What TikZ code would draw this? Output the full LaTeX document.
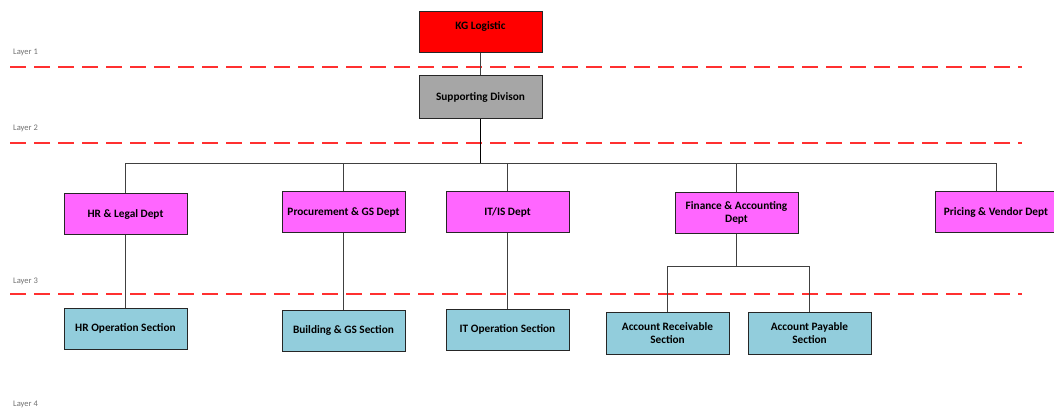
\documentclass[tikz,border=0pt]{standalone}
\usepackage{fontspec}
\setmainfont{Carlito}
\definecolor{kgred}{HTML}{FF0000}
\definecolor{divgrey}{HTML}{A6A6A6}
\definecolor{deptpink}{HTML}{FF66FF}
\definecolor{secblue}{HTML}{92CDDC}
\definecolor{dashred}{HTML}{FF3030}
\definecolor{linegrey}{HTML}{404040}
\definecolor{labelgrey}{HTML}{707070}
\begin{document}
\begin{tikzpicture}[x=1pt,y=-1pt,
  box/.style={draw=black!85, line width=1pt, minimum width=123pt, minimum height=41pt,
    inner sep=2pt, align=center, font=\fontsize{11.3}{13.5}\selectfont\bfseries, text=black},
  top/.style={box, fill=kgred},
  div/.style={box, fill=divgrey},
  dept/.style={box, fill=deptpink},
  sect/.style={box, fill=secblue},
  conn/.style={draw=linegrey, line width=0.8pt},
  trunk/.style={draw=black, line width=1.8pt},
  layerline/.style={draw=dashred, line width=2.3pt, dash pattern=on 16pt off 8pt},
  layerlabel/.style={anchor=west, inner sep=0pt, text=labelgrey, font=\fontsize{8.5}{9}\selectfont}
]
\useasboundingbox (0,0) rectangle (1054,414);

% layer lines and labels
\draw[layerline] (10,67) -- (1022,67);
\draw[layerline] (10,143) -- (1022,143);
\draw[layerline] (10,294) -- (1022,294);
\node[layerlabel] (l1) at (13,52) {Layer 1};
\node[layerlabel] (l2) at (13,128) {Layer 2};
\node[layerlabel] (l3) at (13,281) {Layer 3};
\node[layerlabel] (l4) at (13,404) {Layer 4};

% nodes
\node[top, text depth=14pt] (kg) at (480.5,32.5) {KG Logistic};
\node[div, minimum height=43pt] (sup) at (480.5,97) {Supporting Divison};

\node[dept] (hr) at (125.5,214) {HR \& Legal Dept};
\node[dept] (proc) at (343.5,212) {Procurement \& GS Dept};
\node[dept] (it) at (507.5,212) {IT/IS Dept};
\node[dept] (fin) at (736.5,213) {Finance \& Accounting\\Dept};
\node[dept, minimum width=121pt] (pri) at (996,212) {Pricing \& Vendor Dept};

\node[sect] (hro) at (125.5,328.5) {HR Operation Section};
\node[sect] (bld) at (343.5,330.5) {Building \& GS Section};
\node[sect] (ito) at (507.5,329.5) {IT Operation Section};
\node[sect, minimum height=42pt] (ar) at (667.5,333) {Account Receivable\\Section};
\node[sect, minimum height=42pt] (ap) at (809.5,333) {Account Payable\\Section};

% connectors
\coordinate (bus) at (480.5,163);
\coordinate (fbus) at (736.5,266);
\draw[conn] (kg.south) -- (sup.north);
\draw[conn] (hr.north) -- (hr.north |- bus) -- (pri.north |- bus) -- (pri.north);
\draw[conn] (proc.north) -- (proc.north |- bus);
\draw[conn] (it.north) -- (it.north |- bus);
\draw[conn] (fin.north) -- (fin.north |- bus);
\draw[trunk] (sup.south) -- (bus);
\draw[conn] (hr.south) -- (hro.north);
\draw[conn] (proc.south) -- (bld.north);
\draw[conn] (it.south) -- (ito.north);
\draw[conn] (fin.south) -- (fbus);
\draw[conn] (ar.north) -- (ar.north |- fbus) -- (ap.north |- fbus) -- (ap.north);
\end{tikzpicture}
\end{document}
